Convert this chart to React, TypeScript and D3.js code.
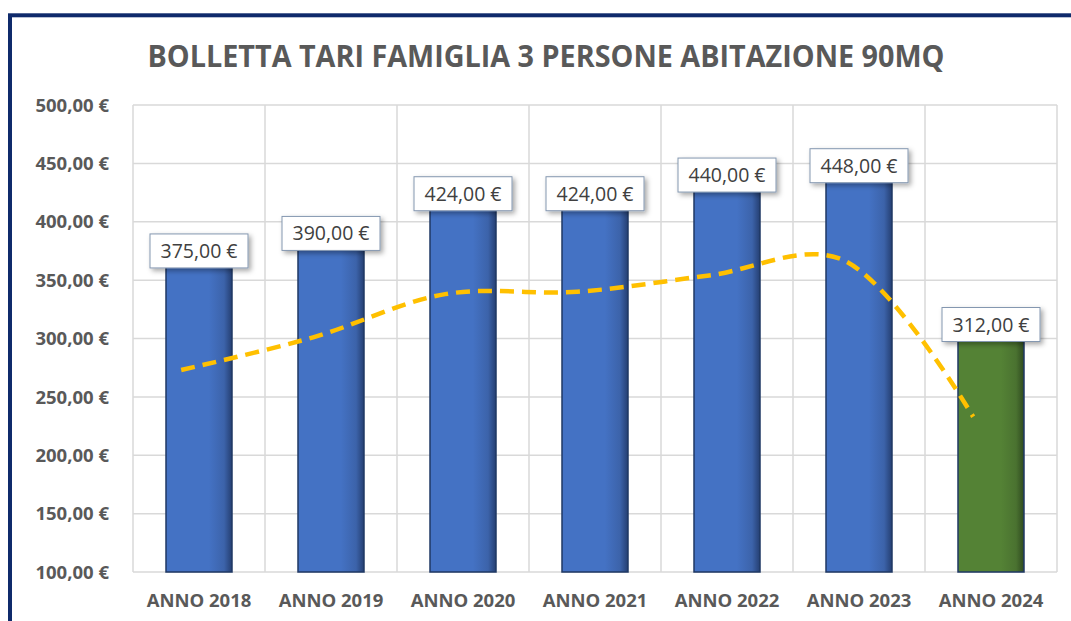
import React from "react";
import * as d3 from "d3";

const categories = ["ANNO 2018", "ANNO 2019", "ANNO 2020", "ANNO 2021", "ANNO 2022", "ANNO 2023", "ANNO 2024"];
const billValues = [375, 390, 424, 424, 440, 448, 312];
const trendValues = [273, 301, 338, 340, 354, 368, 233];
const yTicks = [100, 150, 200, 250, 300, 350, 400, 450, 500];
const title = "BOLLETTA TARI FAMIGLIA 3 PERSONE ABITAZIONE 90MQ";

const fmt = (v: number) => v.toFixed(2).replace(".", ",") + " €";

export default function App() {
  const W = 1071, H = 621;
  const left = 133, right = 1057, top = 105, bottom = 572;
  const x = d3.scaleBand<string>().domain(categories).range([left, right]).paddingInner(0).paddingOuter(0);
  const y = d3.scaleLinear().domain([100, 500]).range([bottom, top]);
  const bw = x.bandwidth();
  const barW = bw * 0.5;
  const lineOffset = -bw * 0.135;

  const line = d3
    .line<number>()
    .x((_, i) => (x(categories[i]) as number) + bw / 2 + lineOffset)
    .y((d) => y(d))
    .curve(d3.curveCatmullRom.alpha(0.5));

  return (
    <svg
      width={W}
      height={H}
      style={{ position: "absolute", left: 0, top: 0, display: "block", background: "#fff" }}
      fontFamily="'Open Sans', sans-serif"
    >
      <defs>
        <linearGradient id="gBlue" x1="0" x2="1" y1="0" y2="0">
          <stop offset="0%" stopColor="#4472c4" />
          <stop offset="65%" stopColor="#4472c4" />
          <stop offset="88%" stopColor="#3c63aa" />
          <stop offset="100%" stopColor="#253f72" />
        </linearGradient>
        <linearGradient id="gGreen" x1="0" x2="1" y1="0" y2="0">
          <stop offset="0%" stopColor="#548235" />
          <stop offset="65%" stopColor="#548235" />
          <stop offset="88%" stopColor="#4a7230" />
          <stop offset="100%" stopColor="#2f4a1f" />
        </linearGradient>
        <filter id="shadow" x="-20%" y="-30%" width="150%" height="180%">
          <feDropShadow dx="2.5" dy="2.5" stdDeviation="2.5" floodColor="#000" floodOpacity="0.35" />
        </filter>
      </defs>

      <rect x={0} y={0} width={W} height={H} fill="#fff" />
      <rect x={10} y={15.3} width={1200} height={800} fill="#fff" stroke="#0f2a6b" strokeWidth={4} />

      <text
        x={546}
        y={67}
        textAnchor="middle"
        fontSize={30}
        fontWeight={700}
        fill="#595959"
        textLength={797}
        lengthAdjust="spacingAndGlyphs"
      >
        {title}
      </text>

      {/* gridlines */}
      {yTicks.map((t) => (
        <line key={"h" + t} x1={left} x2={right} y1={y(t)} y2={y(t)} stroke="#d9d9d9" strokeWidth={1.5} />
      ))}
      {categories.map((c) => (
        <line key={"v" + c} x1={x(c) as number} x2={x(c) as number} y1={top} y2={bottom} stroke="#d9d9d9" strokeWidth={1.5} />
      ))}
      <line x1={right} x2={right} y1={top} y2={bottom} stroke="#d9d9d9" strokeWidth={1.5} />

      {/* y labels */}
      {yTicks.map((t) => (
        <text key={"yl" + t} x={109} y={y(t)} dy="0.36em" textAnchor="end" fontSize={18.5} fontWeight={700} fill="#595959">
          {fmt(t)}
        </text>
      ))}

      {/* bars */}
      {categories.map((c, i) => {
        const bx = (x(c) as number) + bw / 2 - barW / 2;
        const isLast = i === categories.length - 1;
        return (
          <rect
            key={"b" + c}
            x={bx}
            y={y(billValues[i])}
            width={barW}
            height={bottom - y(billValues[i])}
            fill={isLast ? "url(#gGreen)" : "url(#gBlue)"}
            stroke="#1f3864"
            strokeWidth={1.5}
          />
        );
      })}

      {/* trend line */}
      <path
        d={line(trendValues) || ""}
        fill="none"
        stroke="#ffc000"
        strokeWidth={4.5}
        strokeDasharray="14 8"
      />

      {/* data labels */}
      {categories.map((c, i) => {
        const cx = (x(c) as number) + bw / 2;
        const cy = y(billValues[i]);
        const bwid = 98, bh = 34;
        return (
          <g key={"l" + c}>
            <rect
              x={cx - bwid / 2}
              y={cy - bh / 2}
              width={bwid}
              height={bh}
              fill="#fff"
              stroke="#8497b0"
              strokeWidth={1}
              filter="url(#shadow)"
            />
            <text x={cx} y={cy} dy="0.36em" textAnchor="middle" fontSize={19.5} fill="#404040">
              {fmt(billValues[i])}
            </text>
          </g>
        );
      })}

      {/* x labels */}
      {categories.map((c) => (
        <text
          key={"xl" + c}
          x={(x(c) as number) + bw / 2}
          y={600}
          dy="0.36em"
          textAnchor="middle"
          fontSize={18.5}
          fontWeight={700}
          fill="#595959"
        >
          {c}
        </text>
      ))}
    </svg>
  );
}
